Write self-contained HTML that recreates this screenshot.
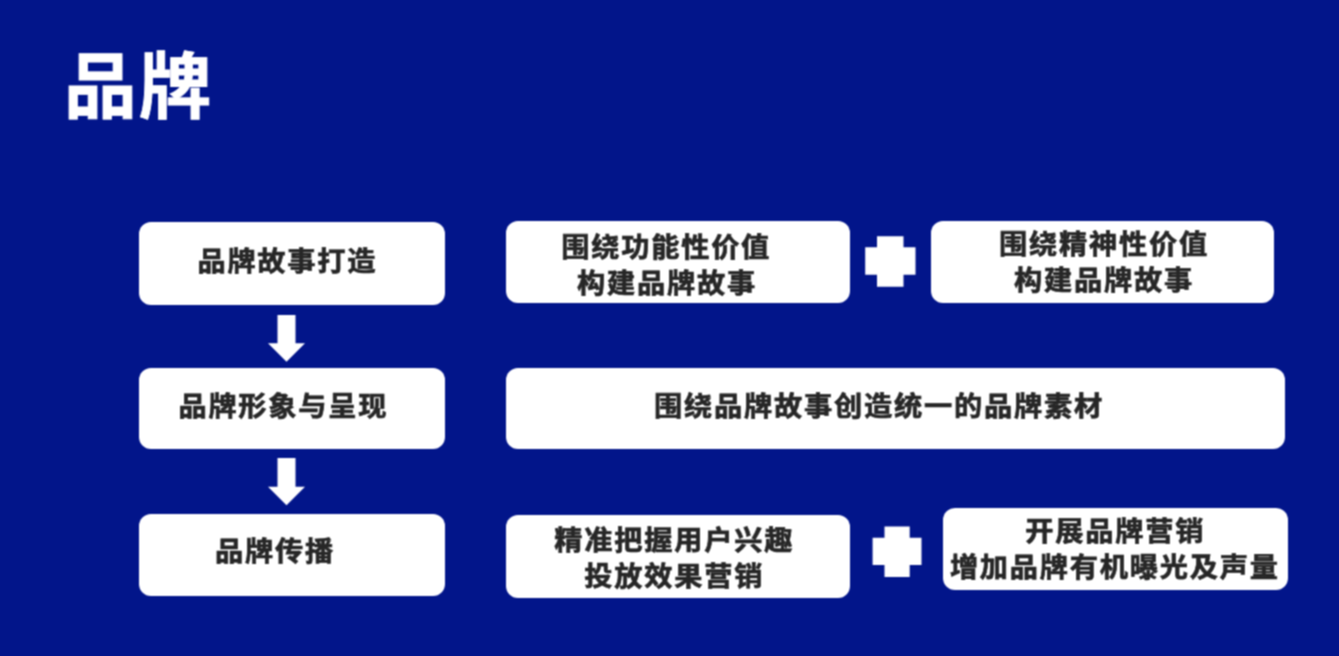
<!DOCTYPE html>
<html lang="zh-CN">
<head>
<meta charset="utf-8">
<title>品牌</title>
<style>
html,body{margin:0;padding:0;}
body{width:1339px;height:656px;overflow:hidden;background:#02158a;position:relative;
  font-family:"Liberation Sans","Noto Sans CJK SC",sans-serif;}
.slide{position:absolute;left:0;top:0;width:1339px;height:656px;background:#02158a;filter:url(#soft);}
.title{position:absolute;left:64.4px;top:50.9px;font-size:72px;line-height:72px;font-weight:700;color:#fff;white-space:nowrap;letter-spacing:2px;paint-order:stroke fill;-webkit-text-stroke:0.8px #fff;margin:0;transform-origin:0 0;transform:scaleX(1.01);}
.box{position:absolute;background:#fff;border-radius:12px;}
.t{position:absolute;margin:0;color:#262626;font-weight:700;font-size:28.2px;line-height:28.2px;letter-spacing:1.8px;white-space:nowrap;-webkit-text-stroke:0.7px #262626;paint-order:stroke fill;transform-origin:0 0;transform:scaleY(0.97);}
svg{position:absolute;left:0;top:0;}
</style>
</head>
<body>
<svg width="0" height="0" style="position:absolute;left:0;top:0;" aria-hidden="true">
  <filter id="soft" x="0" y="0" width="100%" height="100%" color-interpolation-filters="sRGB">
    <feConvolveMatrix order="3" kernelMatrix="1 2 1 2 4 2 1 2 1" edgeMode="duplicate" preserveAlpha="false"/>
  </filter>
</svg>
<main class="slide">
<h1 class="title">品牌</h1>

<div class="box" style="left:139px;top:222px;width:306px;height:82.5px;">
  <p class="t" style="left:58.4px;top:25.6px;">品牌故事打造</p>
</div>
<div class="box" style="left:139px;top:368.2px;width:306px;height:81.2px;">
  <p class="t" style="left:39.4px;top:24.7px;">品牌形象与呈现</p>
</div>
<div class="box" style="left:139px;top:514.2px;width:306px;height:82.2px;">
  <p class="t" style="left:76.1px;top:23.8px;">品牌传播</p>
</div>
<div class="box" style="left:506px;top:221px;width:344px;height:82px;">
  <p class="t" style="left:55.2px;top:12.9px;">围绕功能性价值</p>
  <p class="t" style="left:71.0px;top:49.1px;">构建品牌故事</p>
</div>
<div class="box" style="left:931px;top:221px;width:343px;height:82px;">
  <p class="t" style="left:68.1px;top:10.0px;">围绕精神性价值</p>
  <p class="t" style="left:83.0px;top:45.9px;">构建品牌故事</p>
</div>
<div class="box" style="left:506px;top:368.3px;width:779px;height:81.2px;">
  <p class="t" style="left:148.1px;top:24.3px;">围绕品牌故事创造统一的品牌素材</p>
</div>
<div class="box" style="left:506px;top:515.3px;width:344px;height:82.3px;">
  <p class="t" style="left:48.3px;top:12.1px;">精准把握用户兴趣</p>
  <p class="t" style="left:78.2px;top:48.0px;">投放效果营销</p>
</div>
<div class="box" style="left:943.2px;top:508.4px;width:345.2px;height:82px;">
  <p class="t" style="left:82.1px;top:9.5px;">开展品牌营销</p>
  <p class="t" style="left:6.7px;top:45.2px;">增加品牌有机曝光及声量</p>
</div>

<svg width="1339" height="656" viewBox="0 0 1339 656">
  <polygon fill="#fff" points="277.5,315 295.5,315 295.5,343.3 305,343.3 286.5,361.7 268,343.3 277.5,343.3"/>
  <polygon fill="#fff" points="277.5,458 295.5,458 295.5,486.8 305,486.8 286.5,505.2 268,486.8 277.5,486.8"/>
  <path fill="#fff" d="M877,236.3 H903.5 V247.2 H915.5 V274.8 H903.5 V286.8 H877 V274.8 H865.2 V247.2 H877 Z"/>
  <path fill="#fff" d="M884.5,526.5 H909.7 V537.7 H921.5 V565 H909.7 V577 H884.5 V565 H872.6 V537.7 H884.5 Z"/>
</svg>
</main>
</body>
</html>
